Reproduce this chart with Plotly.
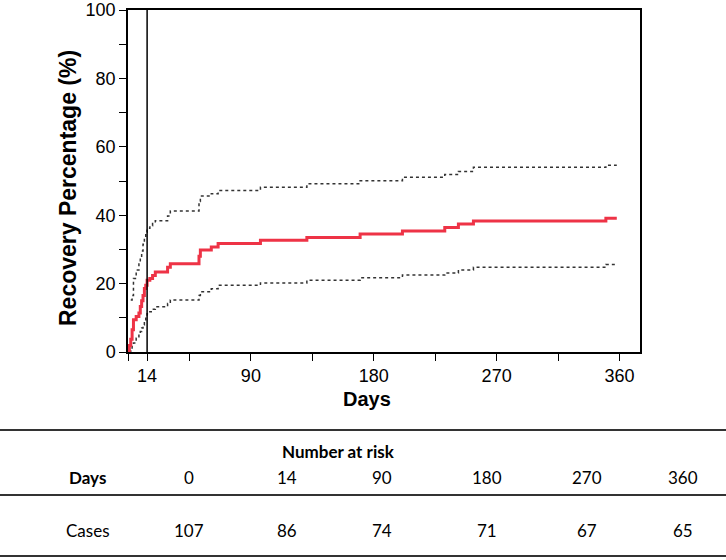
import plotly.graph_objects as go

# ---- data ----
days_red = [0, 1, 2, 3, 4, 6, 8, 9, 10, 11, 12, 13, 14, 16, 18, 20, 29, 31, 52, 53, 61, 66, 97, 131, 170, 201, 232, 242, 253, 350, 358]
recovery = [0, 1.9, 3.7, 6.5, 9.4, 10.4, 11.4, 13.3, 15.0, 16.5, 18.6, 19.5, 21.0, 21.5, 22.4, 23.4, 24.8, 25.8, 28.0, 29.8, 30.7, 31.7, 32.7, 33.5, 34.5, 35.4, 36.4, 37.4, 38.3, 39.1, 39.1]

days_up = [2, 3, 4, 6, 8, 9, 10, 11, 12, 13, 14, 16, 18, 20, 29, 31, 52, 53, 61, 66, 97, 131, 170, 201, 232, 242, 253, 350, 358]
upper_ci = [15.2, 16.5, 21.5, 24.0, 26.0, 27.5, 29.5, 31.5, 33.5, 35.0, 36.2, 36.9, 37.8, 38.4, 39.8, 41.2, 44.0, 45.6, 46.3, 47.2, 48.2, 49.2, 50.1, 51.1, 51.9, 52.8, 54.0, 54.6, 54.6]

days_low = [1, 2, 3, 4, 6, 8, 9, 10, 11, 12, 13, 14, 16, 18, 20, 29, 31, 52, 53, 61, 66, 97, 131, 170, 201, 232, 242, 253, 350, 358]
lower_ci = [0, 0.8, 1.6, 2.6, 4.0, 5.2, 6.0, 7.0, 7.9, 9.0, 10.4, 11.2, 11.8, 12.5, 13.2, 14.2, 15.2, 16.5, 17.6, 18.5, 19.5, 20.2, 21.0, 21.7, 22.5, 23.1, 24.0, 24.8, 25.6, 25.6]

x_tickvals = [0, 14, 45, 90, 135, 180, 225, 270, 315, 360]
x_ticktext = ["", "14", "", "90", "", "180", "", "270", "", "360"]
y_tickvals = [0, 10, 20, 30, 40, 50, 60, 70, 80, 90, 100]
y_ticktext = ["0", "", "20", "", "40", "", "60", "", "80", "", "100"]

table_days = ["0", "14", "90", "180", "270", "360"]
table_cases = ["107", "86", "74", "71", "67", "65"]

# ---- figure ----
W, H = 726, 560
L, R, T, B = 128, 640, 10, 352  # plot area in pixels

fig = go.Figure()
dash_style = dict(color="#333333", width=1.5, dash="3px,3px")
fig.add_trace(go.Scatter(x=days_up, y=upper_ci, mode="lines", line=dash_style, line_shape="hv", hoverinfo="skip", cliponaxis=False))
fig.add_trace(go.Scatter(x=days_low, y=lower_ci, mode="lines", line=dash_style, line_shape="hv", hoverinfo="skip", cliponaxis=False))
fig.add_trace(go.Scatter(x=days_red, y=recovery, mode="lines", line=dict(color="#EE3346", width=3), line_shape="hv", cliponaxis=False))

axis_font = dict(family="Liberation Sans, Arial, sans-serif", size=18, color="black")
common_axis = dict(ticks="outside", ticklen=7, tickwidth=1.2, tickcolor="black", showline=True,
                   linecolor="black", linewidth=1.5, mirror=True, showgrid=False, zeroline=False,
                   tickfont=axis_font, automargin=False, ticklabeloverflow="allow")
fig.update_layout(
    width=W, height=H,
    margin=dict(l=L, r=W - R, t=T, b=H - B, autoexpand=False),
    paper_bgcolor="white", plot_bgcolor="white",
    showlegend=False,
    xaxis=dict(range=[0, 375], tickvals=x_tickvals, ticktext=x_ticktext, **common_axis),
    yaxis=dict(range=[0, 100], tickvals=y_tickvals, ticktext=y_ticktext, **common_axis),
)

# vertical reference line at day 14
fig.add_shape(type="line", xref="x", yref="y", x0=14, x1=14, y0=0, y1=100, line=dict(color="black", width=1.5))


def px_x(px):
    return (px - L) / (R - L)


def px_y(py):
    return (B - py) / (B - T)


# axis titles
fig.add_annotation(text="<b>Recovery Percentage (%)</b>", xref="paper", yref="paper", x=px_x(68), y=px_y(188),
                   textangle=-90, showarrow=False, font=dict(family="Liberation Sans, Arial", size=23, color="black"),
                   xanchor="center", yanchor="middle")
fig.add_annotation(text="<b>Days</b>", xref="paper", yref="paper", x=px_x(367), y=px_y(399),
                   showarrow=False, font=dict(family="Liberation Sans, Arial", size=20, color="black"),
                   xanchor="center", yanchor="middle")

# number-at-risk table
for py in [430, 495, 556]:
    fig.add_shape(type="line", xref="paper", yref="paper", x0=px_x(0), x1=px_x(W), y0=px_y(py), y1=px_y(py),
                  line=dict(color="#333333", width=2))

tfont = dict(family="Lato, Carlito, sans-serif", size=17, color="black")
tfont_b = dict(family="Lato, Carlito, sans-serif", size=17, color="black")
col_x = [189, 287, 382, 487, 587, 683]
fig.add_annotation(text="<b>Number at risk</b>", xref="paper", yref="paper", x=px_x(338), y=px_y(451),
                   showarrow=False, font=tfont_b, xanchor="center", yanchor="middle")
fig.add_annotation(text="<b>Days</b>", xref="paper", yref="paper", x=px_x(87), y=px_y(477),
                   showarrow=False, font=tfont_b, xanchor="center", yanchor="middle")
fig.add_annotation(text="Cases", xref="paper", yref="paper", x=px_x(88), y=px_y(530),
                   showarrow=False, font=tfont, xanchor="center", yanchor="middle")
for cx, d, c in zip(col_x, table_days, table_cases):
    fig.add_annotation(text=d, xref="paper", yref="paper", x=px_x(cx), y=px_y(477),
                       showarrow=False, font=tfont, xanchor="center", yanchor="middle")
    fig.add_annotation(text=c, xref="paper", yref="paper", x=px_x(cx), y=px_y(530),
                       showarrow=False, font=tfont, xanchor="center", yanchor="middle")

fig.write_html("out.html", config={"displayModeBar": False},
               post_script="document.body.style.margin='0';document.body.style.overflow='hidden';")
